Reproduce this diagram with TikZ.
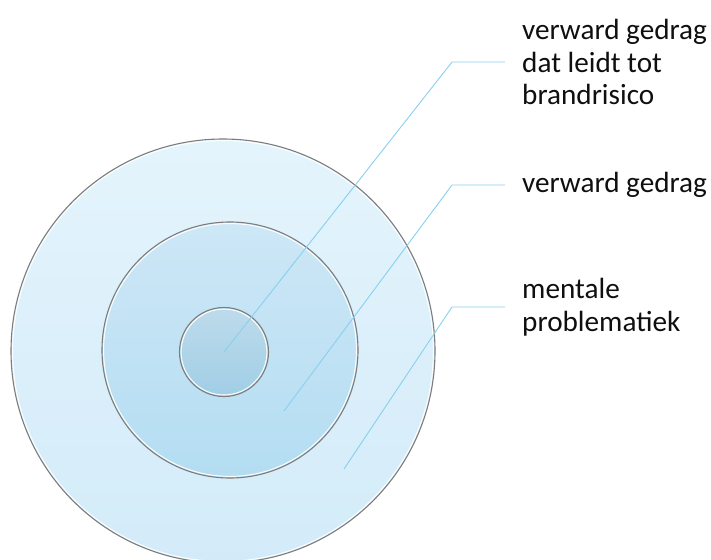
\documentclass[tikz,border=0pt]{standalone}
\usepackage{fontspec}
\setmainfont{Carlito}
\definecolor{leaderblue}{RGB}{135,208,240}
\definecolor{ringgray}{RGB}{125,125,125}
\definecolor{textblack}{RGB}{15,15,15}

\begin{document}
\begin{tikzpicture}[x=1pt,y=-1pt,
    ring/.style={circle, draw=ringgray, line width=1.1pt, inner sep=0pt},
    leader/.style={leaderblue, line width=0.9pt},
    lbl/.style={anchor=west, inner sep=0pt, align=left, text=textblack,
        font=\fontsize{29.2}{32.5}\selectfont}]
    \useasboundingbox (0,0) rectangle (711,559);
    % rings, outside in
    \node[ring, minimum size=424pt, top color={rgb,255:red,228;green,244;blue,252},
        bottom color={rgb,255:red,211;green,235;blue,249}] (outer) at (223,351) {};
    \node[ring, minimum size=256pt, top color={rgb,255:red,205;green,231;blue,246},
        bottom color={rgb,255:red,180;green,221;blue,242}] (middle) at (230,350) {};
    \node[ring, minimum size=89pt, top color={rgb,255:red,190;green,219;blue,235},
        bottom color={rgb,255:red,160;green,206;blue,230}] (inner) at (224,352) {};
    % white rim just inside each ring
    \draw[white, line width=0.9pt] (outer.center) circle (210.4);
    \draw[white, line width=0.9pt] (middle.center) circle (126.4);
    \draw[white, line width=0.9pt] (inner.center) circle (42.9);
    % labels
    \node[lbl] (risk) at (522,62) {verward gedrag\\dat leidt tot\\brandrisico};
    \node[lbl] (confused) at (522,185) {verward gedrag};
    \node[lbl] (mental) at (522,307) {mentale\\problematiek};
    % leader lines
    \coordinate (kx) at (452,0);
    \coordinate (pmid) at (284,411);
    \coordinate (pout) at (344,469);
    \draw[leader] (inner.center) -- (kx |- risk.west) -- ([xshift=-17pt]risk.west);
    \draw[leader] (pmid) -- (kx |- confused.west) -- ([xshift=-17pt]confused.west);
    \draw[leader] (pout) -- (kx |- mental.west) -- ([xshift=-17pt]mental.west);
\end{tikzpicture}
\end{document}
